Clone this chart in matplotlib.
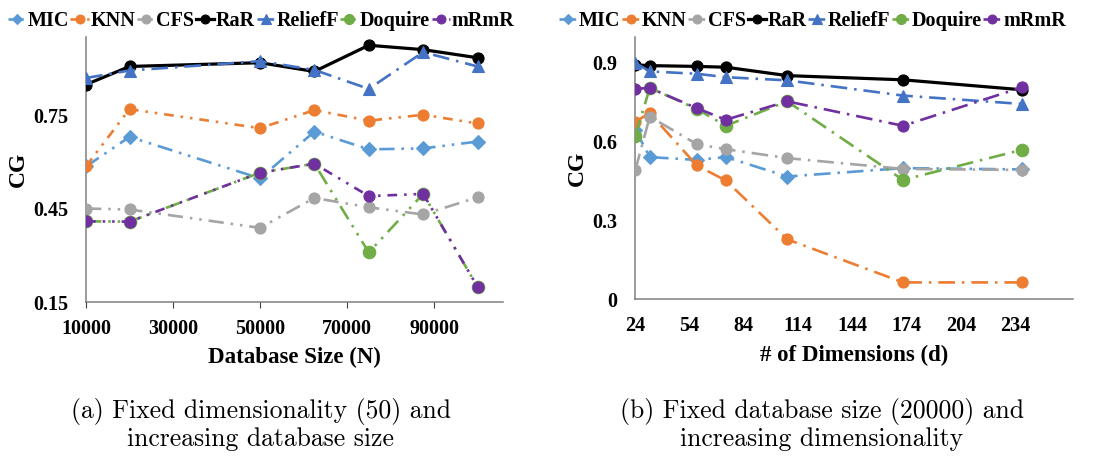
import matplotlib
matplotlib.use("Agg")
import matplotlib.pyplot as plt

plt.rcParams['font.family'] = ['Liberation Serif', 'DejaVu Serif']
plt.rcParams['font.weight'] = 'bold'
plt.rcParams['lines.scale_dashes'] = False

# (a) fixed dimensionality, growing database
size_n = [10000, 20000, 50000, 62500, 75000, 87500, 100000]
mic_a = [0.585, 0.680, 0.547, 0.697, 0.640, 0.643, 0.665]
knn_a = [0.586, 0.769, 0.708, 0.766, 0.732, 0.751, 0.723]
cfs_a = [0.450, 0.447, 0.388, 0.484, 0.454, 0.431, 0.486]
rar_a = [0.848, 0.906, 0.918, 0.890, 0.974, 0.960, 0.934]
relieff_a = [0.869, 0.893, 0.923, 0.895, 0.834, 0.952, 0.906]
doquire_a = [0.409, 0.408, 0.565, 0.594, 0.309, 0.497, 0.199]
mrmr_a = [0.409, 0.408, 0.565, 0.594, 0.490, 0.497, 0.199]

# (b) fixed database size, growing dimensionality
dims = [24, 32, 58, 74, 108, 172, 238]
mic_b = [0.646, 0.542, 0.531, 0.542, 0.468, 0.500, 0.495]
knn_b = [0.677, 0.709, 0.510, 0.453, 0.229, 0.065, 0.065]
cfs_b = [0.493, 0.696, 0.591, 0.572, 0.538, 0.497, 0.493]
rar_b = [0.893, 0.890, 0.887, 0.884, 0.852, 0.836, 0.798]
relieff_b = [0.900, 0.868, 0.859, 0.846, 0.834, 0.776, 0.744]
doquire_b = [0.623, 0.805, 0.725, 0.661, 0.754, 0.455, 0.570]
mrmr_b = [0.802, 0.805, 0.728, 0.684, 0.754, 0.661, 0.808]

names = ['MIC', 'KNN', 'CFS', 'RaR', 'ReliefF', 'Doquire', 'mRmR']
colors = ['#5B9BD5', '#ED7D31', '#A5A5A5', '#000000', '#4472C4', '#70AD47', '#7030A0']
markers = ['D', 'o', 'o', 'o', '^', 'o', 'o']
msizes = [7, 8, 8, 8, 9, 9, 8]

lg_dd = (0, (11, 5, 1.8, 5, 1.8, 5))     # long dash dot dot
dash_dd = (0, (7, 5, 1.8, 5, 1.8, 5))    # dash dot dot
lg_d = (0, (12, 5, 1.8, 5))               # long dash dot
styles_a = [lg_dd, dash_dd, lg_dd, '-', lg_d, lg_dd, dash_dd]
styles_b = [lg_d, lg_d, lg_d, '-', lg_d, lg_d, lg_d]

fig = plt.figure(figsize=(11.03, 4.59), dpi=100)
ax1 = fig.add_axes([0.078, 0.342, 0.3778, 0.577])
ax2 = fig.add_axes([0.576, 0.3475, 0.3968, 0.5725])

series_a = [mic_a, knn_a, cfs_a, rar_a, relieff_a, doquire_a, mrmr_a]
series_b = [mic_b, knn_b, cfs_b, rar_b, relieff_b, doquire_b, mrmr_b]

for ax, xs, series, styles in [(ax1, size_n, series_a, styles_a),
                               (ax2, dims, series_b, styles_b)]:
    for i in range(len(names)):
        lw = 2.3 if names[i] == 'RaR' else 1.9
        ax.plot(xs, series[i], color=colors[i], linestyle=styles[i], lw=lw,
                marker=markers[i], markersize=msizes[i], label=names[i],
                markeredgewidth=0.8, zorder=2 + i)
    for s in ['top', 'right']:
        ax.spines[s].set_visible(False)
    for s in ['left', 'bottom']:
        ax.spines[s].set_color('#808080')
        ax.spines[s].set_linewidth(1.1)
        ax.spines[s].set_zorder(1)
    ax.set_ylabel('CG', fontsize=17, fontweight='bold', labelpad=3)

ax1.set_xlim(10000, 105800)
ax1.set_ylim(0.15, 1.0)
ax1.set_xticks([10000, 30000, 50000, 70000, 90000])
ax1.set_yticks([0.15, 0.45, 0.75])
ax1.set_yticklabels(['0.15', '0.45', '0.75'])
ax1.tick_params(axis='x', length=4, color='#404040', pad=8, labelsize=14.5)
ax1.tick_params(axis='y', length=0, pad=13, labelsize=14.5)
ax1.set_xlabel('Database Size (N)', fontsize=16.5, fontweight='bold', labelpad=6)

ax2.set_xlim(24, 266)
ax2.set_ylim(0, 1.0)
ax2.set_xticks([24, 54, 84, 114, 144, 174, 204, 234])
ax2.set_yticks([0, 0.3, 0.6, 0.9])
ax2.set_yticklabels(['0', '0.3', '0.6', '0.9'])
ax2.tick_params(axis='x', length=0, pad=12, labelsize=14.5)
ax2.tick_params(axis='y', length=0, pad=13, labelsize=14.5)
ax2.set_xlabel('# of Dimensions (d)', fontsize=16.5, fontweight='bold', labelpad=6)

for ax, cx in [(ax1, 0.2366), (ax2, 0.7366)]:
    h, l = ax.get_legend_handles_labels()
    fig.legend(h, l, loc='center', bbox_to_anchor=(cx, 0.955), ncol=7,
               frameon=False, fontsize=14.5, handlelength=0.9,
               handletextpad=0.08, columnspacing=0.08, borderaxespad=0,
               borderpad=0, markerscale=0.8)

fig.text(0.2366, 0.133, '(a) Fixed dimensionality (50) and\nincreasing database size',
         ha='center', va='top', family='cmr10', fontweight='normal',
         fontsize=18.5, multialignment='center', linespacing=1.12)
fig.text(0.745, 0.133, '(b) Fixed database size (20000) and\nincreasing dimensionality',
         ha='center', va='top', family='cmr10', fontweight='normal',
         fontsize=18.5, multialignment='center', linespacing=1.12)

fig.savefig('out.png', dpi=100)
